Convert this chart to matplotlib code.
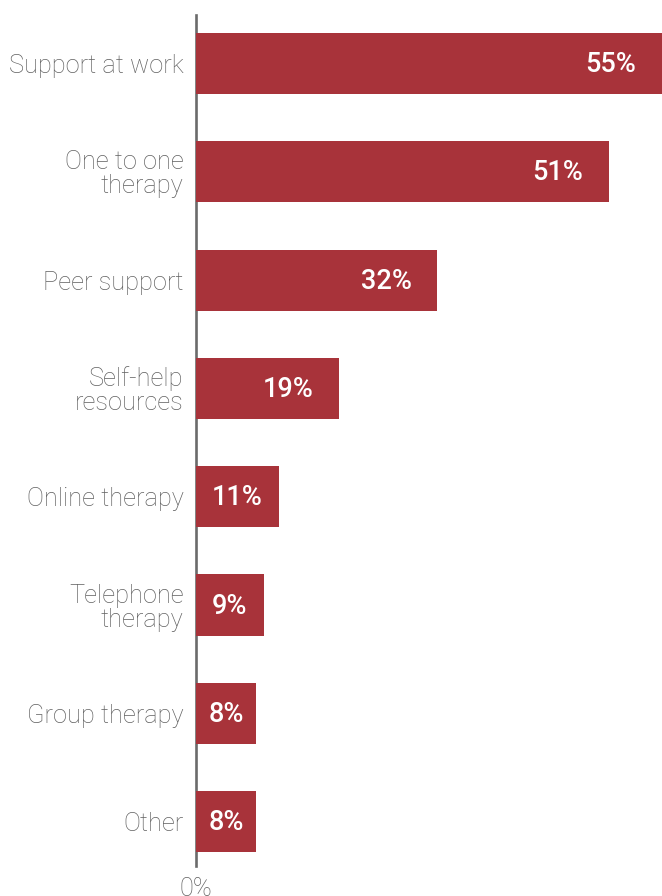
import matplotlib.pyplot as plt
from matplotlib import font_manager

categories = ['Support at work', 'One to one\ntherapy', 'Peer support',
              'Self-help\nresources', 'Online therapy', 'Telephone\ntherapy',
              'Group therapy', 'Other']
# bar lengths as drawn (top bar runs off the right edge)
bar_values = [62, 54.8, 32, 19, 11, 9, 8, 8]
pct_labels = ['55%', '51%', '32%', '19%', '11%', '9%', '8%', '8%']

bar_color = '#a8333a'
text_gray = '#606060'

names = {f.name for f in font_manager.fontManager.ttflist}
fam = 'Roboto' if 'Roboto' in names else 'DejaVu Sans'
plt.rcParams['font.family'] = fam

W, H = 662, 896
fig = plt.figure(figsize=(W / 100, H / 100), dpi=100)
ax_left, ax_right = 196, 662
ax_top, ax_bot = 15, 866
ax = fig.add_axes([ax_left / W, (H - ax_bot) / H,
                   (ax_right - ax_left) / W, (ax_bot - ax_top) / H])

xmax = 61.8
ax.set_xlim(0, xmax)
ax.set_ylim(7.41, -0.448)

y = list(range(len(categories)))
ax.barh(y, bar_values, height=0.565, color=bar_color, zorder=3)

for i, (v, lab) in enumerate(zip(bar_values, pct_labels)):
    vis = min(v, xmax)
    cx = vis - min(vis / 2, 6.8)
    ax.text(cx, i + 0.01, lab, ha='center', va='center', color='white',
            fontsize=19.5, fontweight='medium', zorder=4)

for s in ['top', 'right', 'bottom']:
    ax.spines[s].set_visible(False)
ax.spines['left'].set_color('#6b6b6b')
ax.spines['left'].set_linewidth(1.9)
ax.spines['left'].set_zorder(1)

ax.set_yticks(y, categories)
ax.tick_params(axis='y', length=0, pad=9, labelsize=18.3, labelcolor=text_gray)
for t in ax.get_yticklabels():
    t.set_fontweight('light')
    t.set_linespacing(1.0)

ax.set_xticks([0], ['0%'])
ax.tick_params(axis='x', length=0, pad=8, labelsize=18.3, labelcolor=text_gray)
for t in ax.get_xticklabels():
    t.set_fontweight('light')

fig.savefig('out.png', dpi=100)
